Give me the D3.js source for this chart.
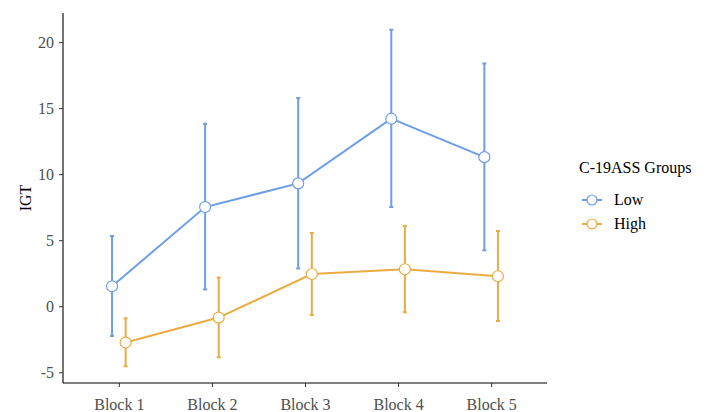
<!DOCTYPE html>
<html>
<head>
<meta charset="utf-8">
<script src="https://d3js.org/d3.v7.min.js"></script>
<style>
    body { margin: 0; background: #fff; }
    svg text { font-family: "Liberation Serif", "Times New Roman", "DejaVu Serif", serif; }
    .tick text { font-size: 16px; fill: #4d4d4d; }
    .tick line { stroke: #333; }
    .domain { stroke: #000; }
</style>
</head>
<body>
<svg width="709" height="412"></svg>
<script>
var blocks = ["Block 1", "Block 2", "Block 3", "Block 4", "Block 5"];
var groups = ["Low", "High"];
var lowMean = [1.51, 7.51, 9.30, 14.2, 11.29];
var lowUpper = [5.32, 13.82, 15.76, 20.93, 18.38];
var lowLower = [-2.25, 1.26, 2.85, 7.51, 4.24];
var highMean = [-2.75, -0.86, 2.44, 2.80, 2.27];
var highUpper = [-0.91, 2.17, 5.55, 6.07, 5.70];
var highLower = [-4.54, -3.86, -0.66, -0.45, -1.11];
var yTicks = [-5, 0, 5, 10, 15, 20];

var colors = { Low: "#6f9ee8", High: "#e9ac42" };
var series = [
    { name: "Low", mean: lowMean, upper: lowUpper, lower: lowLower },
    { name: "High", mean: highMean, upper: highUpper, lower: highLower }
];

var serif = "Liberation Serif, Times New Roman, DejaVu Serif, serif";
var svg = d3.select("svg");
var pLeft = 63, pRight = 547, pTop = 13, pBottom = 383;

var x = d3.scalePoint().domain(blocks).range([pLeft, pRight]).padding(0.6);
var dodge = 6.8;

var lo = d3.min(lowLower.concat(highLower)), hi = d3.max(lowUpper.concat(highUpper));
var pad = (hi - lo) * 0.05;
var y = d3.scaleLinear().domain([lo - pad, hi + pad]).range([pBottom, pTop]);

svg.append("g")
    .attr("transform", "translate(0," + pBottom + ")")
    .call(d3.axisBottom(x).tickSize(4).tickPadding(12))
    .attr("font-family", serif)
    .call(function(g) { g.select(".domain").attr("d", "M" + pLeft + ",0H" + pRight); });

svg.append("g")
    .attr("transform", "translate(" + pLeft + ",0)")
    .call(d3.axisLeft(y).tickValues(yTicks).tickSize(4).tickPadding(5)
        .tickFormat(function(d) { return String(d); }))
    .attr("font-family", serif)
    .call(function(g) { g.select(".domain").attr("d", "M0," + pTop + "V" + pBottom); });

svg.selectAll(".tick line").attr("stroke-width", 1);
svg.selectAll(".domain").attr("stroke-width", 1.1);

svg.append("text")
    .attr("transform", "translate(31," + (pTop + pBottom) / 2 + ") rotate(-90)")
    .attr("text-anchor", "middle")
    .attr("font-size", 16)
    .attr("fill", "#000")
    .text("IGT");

series.forEach(function(s, si) {
    var off = si === 0 ? -dodge : dodge;
    var c = colors[s.name];
    var g = svg.append("g");
    var pts = blocks.map(function(b, i) { return { b: b, m: s.mean[i], u: s.upper[i], l: s.lower[i] }; });

    g.selectAll(".err").data(pts).enter().append("path")
        .attr("fill", "none").attr("stroke", c).attr("stroke-width", 2)
        .attr("d", function(d) {
            var cx = x(d.b) + off;
            return "M" + cx + "," + y(d.u) + "V" + y(d.l) +
                "M" + (cx - 2) + "," + y(d.u) + "H" + (cx + 2) +
                "M" + (cx - 2) + "," + y(d.l) + "H" + (cx + 2);
        });

    g.append("path").datum(pts)
        .attr("fill", "none").attr("stroke", c).attr("stroke-width", 2)
        .attr("d", d3.line().x(function(d) { return x(d.b) + off; }).y(function(d) { return y(d.m); }));

    g.selectAll("circle").data(pts).enter().append("circle")
        .attr("cx", function(d) { return x(d.b) + off; })
        .attr("cy", function(d) { return y(d.m); })
        .attr("r", 5.5)
        .attr("fill", "#fff").attr("stroke", c).attr("stroke-width", 1.2);
});

// legend
var lg = svg.append("g").attr("transform", "translate(579,0)");
lg.append("text").attr("x", 0).attr("y", 173).attr("font-size", 16).attr("fill", "#000").text("C-19ASS Groups");
groups.forEach(function(name, i) {
    var ky = 200 + i * 24;
    lg.append("line").attr("x1", 3).attr("x2", 23).attr("y1", ky).attr("y2", ky)
        .attr("stroke", colors[name]).attr("stroke-width", 2);
    lg.append("circle").attr("cx", 13).attr("cy", ky).attr("r", 5)
        .attr("fill", "#fff").attr("stroke", colors[name]).attr("stroke-width", 1.2);
    lg.append("text").attr("x", 35).attr("y", ky + 5).attr("font-size", 16).attr("fill", "#000").text(name);
});
</script>
</body>
</html>
